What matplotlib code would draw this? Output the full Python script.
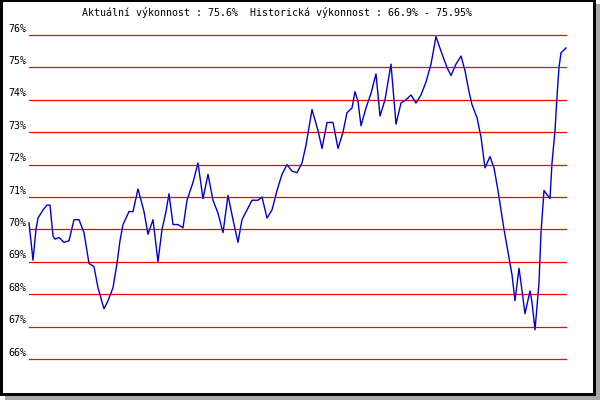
import matplotlib
matplotlib.use("Agg")
import matplotlib.pyplot as plt
from matplotlib.patches import Rectangle
import matplotlib.transforms as mtransforms

# ---- data ----
days = [0, 4, 7, 9, 14, 18, 21, 24, 26, 30, 35, 40, 45, 50, 55, 60, 65, 69, 75, 79,
        84, 88, 91, 94, 97, 100, 104, 109, 115, 119, 124, 129, 133, 137, 140, 144,
        149, 154, 158, 164, 169, 174, 179, 184, 189, 194, 199, 204, 209, 213, 218,
        223, 229, 233, 238, 243, 248, 253, 258, 263, 268, 273, 277, 283, 289, 293,
        298, 304, 309, 314, 318, 323, 326, 329, 332, 337, 342, 347, 351, 356, 362,
        367, 372, 377, 382, 387, 392, 397, 402, 407, 412, 418, 422, 427, 432, 436,
        440, 443, 448, 452, 456, 461, 465, 469, 473, 475, 479, 483, 486, 490, 492,
        496, 501, 503, 506, 510, 512, 515, 521, 523, 526, 528, 530, 532, 537]
values = [70.2, 69.05, 70.0, 70.35, 70.6, 70.75, 70.75, 69.8, 69.7, 69.75, 69.6, 69.65,
          70.3, 70.3, 69.9, 68.95, 68.85, 68.2, 67.55, 67.8, 68.2, 68.95, 69.65, 70.15,
          70.35, 70.55, 70.55, 71.25, 70.55, 69.85, 70.3, 69.0, 70.0, 70.55, 71.1,
          70.15, 70.15, 70.05, 70.9, 71.45, 72.05, 70.95, 71.7, 70.9, 70.5, 69.9, 71.05,
          70.3, 69.6, 70.3, 70.6, 70.9, 70.9, 71.0, 70.35, 70.6, 71.2, 71.7, 72.0,
          71.8, 71.75, 72.05, 72.6, 73.7, 73.05, 72.5, 73.3, 73.3, 72.5, 73.0, 73.6,
          73.75, 74.25, 73.95, 73.2, 73.75, 74.2, 74.8, 73.5, 74.0, 75.1, 73.25, 73.9,
          74.0, 74.15, 73.9, 74.15, 74.55, 75.1, 75.95, 75.5, 75.0, 74.75, 75.1, 75.35,
          74.9, 74.25, 73.85, 73.45, 72.85, 71.9, 72.25, 71.9, 71.2, 70.4, 70.0, 69.3,
          68.6, 67.8, 68.8, 68.35, 67.4, 68.1, 67.75, 66.9, 68.35, 69.9, 71.2, 70.95,
          72.05, 73.05, 74.1, 75.0, 75.45, 75.6]
levels = [66, 67, 68, 69, 70, 71, 72, 73, 74, 75, 76]
title = "Aktuální výkonnost : 75.6%  Historická výkonnost : 66.9% - 75.95%"

W, H = 600, 400
fig = plt.figure(figsize=(6, 4), dpi=100)
fig.patch.set_facecolor("white")


def px_rect(x0, y0, x1, y1, color):
    # image pixel coords (y downward) -> figure fraction
    fig.add_artist(Rectangle((x0 / W, 1 - y1 / H), (x1 - x0) / W, (y1 - y0) / H,
                             transform=fig.transFigure, facecolor=color,
                             edgecolor="none", zorder=-10))


# shadow, black frame, white interior
px_rect(5, 4, 600, 400, "#a8a8a8")
px_rect(0, 0, 596, 396, "black")
px_rect(3, 2, 593, 393, "white")

fontprops = dict(family="DejaVu Sans Mono", fontsize=7.2, color="black")

ax = fig.add_axes([29 / W, (H - 359) / H, (566 - 29) / W, (359 - 35) / H])
ax.set_facecolor("none")
ax.set_xlim(days[0], days[-1])
ax.set_ylim(levels[0], levels[-1])
for s in ax.spines.values():
    s.set_visible(False)
ax.set_xticks([])
ax.set_yticks([])

for lv in levels:
    ax.axhline(lv, color="#ff0000", lw=0.9, zorder=1, clip_on=False)

trans = mtransforms.blended_transform_factory(ax.transAxes, ax.transData)
offset = mtransforms.ScaledTranslation(-3 / 100, 1.5 / 100, fig.dpi_scale_trans)
for lv in levels:
    ax.text(0, lv, f"{lv}%", ha="right", va="bottom",
            transform=trans + offset, **fontprops)

ax.plot(days, values, color="#0000cc", lw=1.0, zorder=3, clip_on=False)

fig.text(277 / W, 1 - 13 / H, title, ha="center", va="center", **fontprops)

fig.savefig("out.png", dpi=100)
